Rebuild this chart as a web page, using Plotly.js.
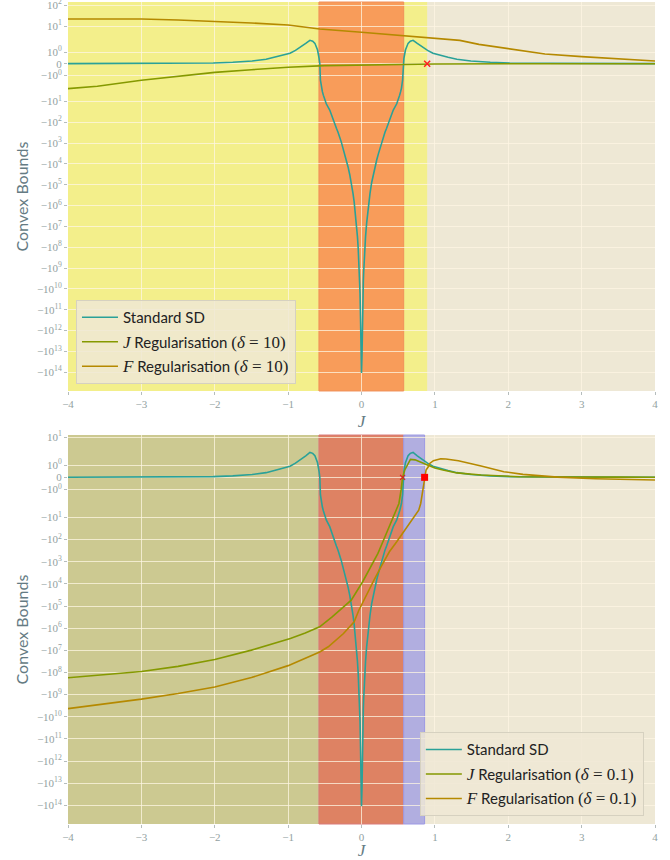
<!DOCTYPE html>
<html>
<head>
<meta charset="utf-8">
<script src="https://cdn.plot.ly/plotly-3.0.1.min.js"></script>
<style>html,body{margin:0;padding:0;background:#fff;}#chart{width:670px;height:860px;}</style>
</head>
<body>
<div id="chart"></div>
<script>
const xSD = [-4, -3.5, -3, -2.5, -2.02, -1.755, -1.49, -1.3, -1.18, -1.05, -0.974, -0.9, -0.818, -0.76, -0.703, -0.665, -0.635, -0.599, -0.578, -0.568,
             -0.56, -0.545, -0.533, -0.52, -0.509, -0.48, -0.433, -0.41, -0.388, -0.365, -0.342, -0.32, -0.297, -0.275, -0.252, -0.23, -0.207, -0.184, -0.16, -0.138, -0.116, -0.1, -0.085, -0.07, -0.055, -0.045, -0.038, -0.03, -0.025, -0.02, -0.015, -0.011, -0.007, 0,
             0.007, 0.011, 0.015, 0.02, 0.025, 0.03, 0.038, 0.045, 0.055, 0.07, 0.085, 0.1, 0.116, 0.138, 0.16, 0.184, 0.207, 0.23, 0.252, 0.275, 0.297, 0.32, 0.342, 0.365, 0.388, 0.41, 0.433, 0.48, 0.509, 0.52, 0.533, 0.545, 0.56,
             0.568, 0.578, 0.599, 0.635, 0.665, 0.703, 0.76, 0.818, 0.9, 0.974, 1.05, 1.18, 1.3, 1.49, 1.755, 2.02, 2.5, 3, 3.5, 4];
const ySD = [0.01, 0.015, 0.02, 0.035, 0.06, 0.12, 0.23, 0.38, 0.55, 0.75, 0.9, 1.15, 1.47, 1.75, 2.05, 1.95, 1.76, 1.18, 0.46, 0,
             -1.41, -2.3, -3.4, -5.0, -7.1, -13, -26, -45, -78, -120, -196, -300, -490, -900, -1800, -3300, -6500, -13600, -33000, -80000, -2.6e5, -6.7e5, -2e6, -7e6, -3.2e7, -1.1e8, -3.5e8, -1.5e9, -4.5e9, -1.6e10, -1.2e11, -6.6e11, -1.5e13, -1.1e14,
             -1.5e13, -6.6e11, -1.2e11, -1.6e10, -4.5e9, -1.5e9, -3.5e8, -1.1e8, -3.2e7, -7e6, -2e6, -6.7e5, -2.6e5, -80000, -33000, -13600, -6500, -3300, -1800, -900, -490, -300, -196, -120, -78, -45, -26, -13, -7.1, -5.0, -3.4, -2.3, -1.41,
             0, 0.46, 1.18, 1.76, 1.95, 2.05, 1.75, 1.47, 1.15, 0.9, 0.75, 0.55, 0.38, 0.23, 0.12, 0.06, 0.035, 0.02, 0.015, 0.01];

const xJ10 = [-4, -3.8, -3.6, -3, -2.5, -2, -1.5, -1, -0.5, 0, 0.5, 1, 2, 3, 4];
const yJ10 = [-2.44, -2.2, -1.95, -1.43, -1.1, -0.75, -0.52, -0.31, -0.17, -0.11, -0.055, -0.03, -0.01, -0.005, 0];

const xF10 = [-4, -3.5, -3, -2.5, -2, -1.5, -1, -0.57, 0, 0.578, 0.9, 1.34, 1.6, 1.9, 2.2, 2.5, 3, 3.5, 4];
const yF10 = [21.7, 21.8, 21.6, 19.4, 16.7, 13.9, 11.2, 7.2, 5.0, 3.44, 2.75, 2.04, 1.67, 1.39, 1.13, 0.84, 0.61, 0.41, 0.23];

const xJ01 = [-4, -3.5, -3, -2.5, -2, -1.5, -1.26, -0.97, -0.766, -0.57, -0.4, -0.245, -0.14, 0.016, 0.12, 0.224, 0.3, 0.38, 0.45, 0.51, 0.54, 0.56, 0.59, 0.615, 0.667, 0.73, 0.8, 0.9, 1.0, 1.11, 1.3, 1.63, 2.15, 2.5, 3, 3.5, 4];
const yJ01 = [-1.74e8, -1.25e8, -9e7, -5.3e7, -2.6e7, -9.8e6, -5.8e6, -2.9e6, -1.63e6, -8.7e5, -3.1e5, -1.07e5, -5.4e4, -8e3, -1.8e3, -420, -107, -26, -7.1, -2.35, -1, 0, 0.6, 0.86, 1.46, 1.42, 1.27, 1.0, 0.76, 0.59, 0.36, 0.19, 0.05, 0.03, 0.02, 0.015, 0.01];

const xF01 = [-4, -3.5, -3, -2.5, -2, -1.5, -1, -0.57, -0.453, -0.245, -0.1, -0.036, 0.05, 0.17, 0.28, 0.38, 0.48, 0.578, 0.68, 0.745, 0.78, 0.807, 0.84, 0.86, 0.88, 0.91, 0.93, 0.98, 1.08, 1.15, 1.32, 1.63, 1.94, 2.2, 2.41, 2.67, 3.19, 3.6, 4];
const yF01 = [-4.3e9, -2.7e9, -1.6e9, -8.9e8, -4.5e8, -1.7e8, -4.9e7, -1.18e7, -6.9e6, -1.74e6, -5.1e5, -1.55e5, -4e4, -6.8e3, -1.4e3, -356, -126, -44, -15.5, -7.8, -4.7, -2.35, -0.76, 0, 0.6, 0.86, 1.13, 1.35, 1.51, 1.49, 1.35, 0.92, 0.46, 0.24, 0.13, 0.02, -0.11, -0.16, -0.22];

const xMarkTopX = [0.895];  const yMarkTopX = [0];
const xMarkBotX = [0.56];   const yMarkBotX = [0];
const xMarkBotSq = [0.86];  const yMarkBotSq = [0];

const xTickVals = [-4, -3, -2, -1, 0, 1, 2, 3, 4];
const xTickText = ['\u22124', '\u22123', '\u22122', '\u22121', '0', '1', '2', '3', '4'];

const yTickValsTop = [1e2, 1e1, 1e0, 0, -1e0, -1e1, -1e2, -1e3, -1e4, -1e5, -1e6, -1e7, -1e8, -1e9, -1e10, -1e11, -1e12, -1e13, -1e14];
const yTickTextTop = ['10<sup>2</sup>', '10<sup>1</sup>', '10<sup>0</sup>', '0', '\u221210<sup>0</sup>', '\u221210<sup>1</sup>', '\u221210<sup>2</sup>', '\u221210<sup>3</sup>', '\u221210<sup>4</sup>', '\u221210<sup>5</sup>', '\u221210<sup>6</sup>', '\u221210<sup>7</sup>', '\u221210<sup>8</sup>', '\u221210<sup>9</sup>', '\u221210<sup>10</sup>', '\u221210<sup>11</sup>', '\u221210<sup>12</sup>', '\u221210<sup>13</sup>', '\u221210<sup>14</sup>'];
const yTickValsBot = [1e1, 1e0, 0, -1e0, -1e1, -1e2, -1e3, -1e4, -1e5, -1e6, -1e7, -1e8, -1e9, -1e10, -1e11, -1e12, -1e13, -1e14];
const yTickTextBot = ['10<sup>1</sup>', '10<sup>0</sup>', '0', '\u221210<sup>0</sup>', '\u221210<sup>1</sup>', '\u221210<sup>2</sup>', '\u221210<sup>3</sup>', '\u221210<sup>4</sup>', '\u221210<sup>5</sup>', '\u221210<sup>6</sup>', '\u221210<sup>7</sup>', '\u221210<sup>8</sup>', '\u221210<sup>9</sup>', '\u221210<sup>10</sup>', '\u221210<sup>11</sup>', '\u221210<sup>12</sup>', '\u221210<sup>13</sup>', '\u221210<sup>14</sup>'];

// shaded regions [x0, x1]
const topYellow = [-4, 0.895];
const topOrange = [-0.58, 0.575];
const botOlive = [-4, -0.58];
const botRed = [-0.58, 0.575];
const botPurple = [0.575, 0.86];

// ---------- symlog transform (matplotlib default: linthresh 2, linscale 1) ----------
const LT = 2, LS = 1 / (1 - 1 / 10);
function sl(v) { const a = Math.abs(v); return a <= LT ? v * LS / LT : Math.sign(v) * (LS + Math.log10(a / LT)); }
const S = arr => arr.map(sl);

const C_SD = '#2AA198', C_J = '#859900', C_F = '#B58900';
const mathSpan = t => `<span style="font-family:'Liberation Serif';font-size:17px">${t}</span>`;

const traces = [
  {x: xSD, y: S(ySD), xaxis: 'x', yaxis: 'y', mode: 'lines', line: {color: C_SD, width: 1.6}, name: 'Standard SD', legend: 'legend', legendgroup: 'a'},
  {x: xJ10, y: S(yJ10), xaxis: 'x', yaxis: 'y', mode: 'lines', line: {color: C_J, width: 1.6}, name: mathSpan('<i>J</i>') + ' Regularisation ' + mathSpan('(<i>δ</i> = 10)'), legend: 'legend', legendgroup: 'b'},
  {x: xF10, y: S(yF10), xaxis: 'x', yaxis: 'y', mode: 'lines', line: {color: C_F, width: 1.6}, name: mathSpan('<i>F</i>') + ' Regularisation ' + mathSpan('(<i>δ</i> = 10)'), legend: 'legend', legendgroup: 'c'},
  {x: xMarkTopX, y: S(yMarkTopX), xaxis: 'x', yaxis: 'y', mode: 'markers', marker: {symbol: 'x-thin', size: 6, line: {color: '#ff2020', width: 1.5}, color: '#ff2020'}, showlegend: false},

  {x: xSD, y: S(ySD), xaxis: 'x2', yaxis: 'y2', mode: 'lines', line: {color: C_SD, width: 1.6}, name: 'Standard SD', legend: 'legend2', legendgroup: 'd'},
  {x: xJ01, y: S(yJ01), xaxis: 'x2', yaxis: 'y2', mode: 'lines', line: {color: C_J, width: 1.6}, name: mathSpan('<i>J</i>') + ' Regularisation ' + mathSpan('(<i>δ</i> = 0.1)'), legend: 'legend2', legendgroup: 'e'},
  {x: xF01, y: S(yF01), xaxis: 'x2', yaxis: 'y2', mode: 'lines', line: {color: C_F, width: 1.6}, name: mathSpan('<i>F</i>') + ' Regularisation ' + mathSpan('(<i>δ</i> = 0.1)'), legend: 'legend2', legendgroup: 'f'},
  {x: xMarkBotX, y: S(yMarkBotX), xaxis: 'x2', yaxis: 'y2', mode: 'markers', marker: {symbol: 'x-thin', size: 5, line: {color: '#e02020', width: 1.2}, color: '#e02020'}, showlegend: false},
  {x: xMarkBotSq, y: S(yMarkBotSq), xaxis: 'x2', yaxis: 'y2', mode: 'markers', marker: {symbol: 'square', size: 7, color: '#ff0000'}, showlegend: false}
];

function span(xr, yref, fill, edge) {
  return {type: 'rect', xref: yref === 'y domain' ? 'x' : 'x2', yref: yref, x0: xr[0], x1: xr[1], y0: 0, y1: 1,
          fillcolor: fill, line: {width: edge ? 1 : 0, color: edge || fill}, layer: 'below'};
}
const shapes = [
  span(topYellow, 'y domain', '#F3EF8B'),
  span(topOrange, 'y domain', '#F89C5A', '#F0905A'),
  span(botOlive, 'y2 domain', '#CCC991'),
  span(botRed, 'y2 domain', '#DE8263', '#D97A7A'),
  span(botPurple, 'y2 domain', '#B1AEE0', '#9C99E4')
];

const tickFont = {family: "'Liberation Serif', serif", size: 11, color: '#93a1a1'};
const gridC = 'rgba(253,246,227,0.75)';
const xCommon = {range: [-4, 4], tickvals: xTickVals, ticktext: xTickText, showgrid: true, gridcolor: gridC, gridwidth: 1,
                 zeroline: false, showline: false, ticks: 'outside', ticklen: 3, tickcolor: '#b5bdbd', tickfont: tickFont,
                 ticklabeloverflow: 'allow',
                 title: {text: '<i>J</i>', font: {family: "'Liberation Serif', serif", size: 17, color: '#657b83'}, standoff: 5}};
const yCommon = {showgrid: true, gridcolor: gridC, gridwidth: 1, zeroline: false, showline: false, ticks: 'outside', ticklen: 3,
                 tickcolor: '#b5bdbd', tickfont: tickFont, ticklabeloverflow: 'allow',
                 title: {text: 'Convex Bounds', font: {family: 'Lato, sans-serif', size: 16, color: '#657b83'}, standoff: 4}};

const legendCommon = {bgcolor: 'rgba(238,232,213,0.85)', bordercolor: '#d6d1c0', borderwidth: 1, itemwidth: 36,
                      font: {family: 'Lato, sans-serif', size: 15, color: '#222222'}, tracegroupgap: 2, traceorder: 'grouped'};

const layout = {
  width: 670, height: 860,
  margin: {l: 68, r: 15, t: 2, b: 36},
  paper_bgcolor: '#ffffff', plot_bgcolor: '#eee8d5',
  font: {family: 'Lato, sans-serif', color: '#657b83'},
  xaxis: Object.assign({}, xCommon, {anchor: 'y', domain: [0, 1]}),
  yaxis: Object.assign({}, yCommon, {anchor: 'x', domain: [0.5268, 1], range: [-15.71, 2.962], tickvals: yTickValsTop.map(sl), ticktext: yTickTextTop}),
  xaxis2: Object.assign({}, xCommon, {anchor: 'y2', domain: [0, 1]}),
  yaxis2: Object.assign({}, yCommon, {anchor: 'x2', domain: [0, 0.4732], range: [-15.65, 1.91], tickvals: yTickValsBot.map(sl), ticktext: yTickTextBot}),
  legend: Object.assign({}, legendCommon, {x: 0.0136, xanchor: 'left', y: 0.5353, yanchor: 'bottom'}),
  legend2: Object.assign({}, legendCommon, {x: 0.981, xanchor: 'right', y: 0.0094, yanchor: 'bottom'}),
  shapes: shapes,
  showlegend: true
};

Plotly.newPlot('chart', traces, layout, {displayModeBar: false, staticPlot: true});
</script>
</body>
</html>
